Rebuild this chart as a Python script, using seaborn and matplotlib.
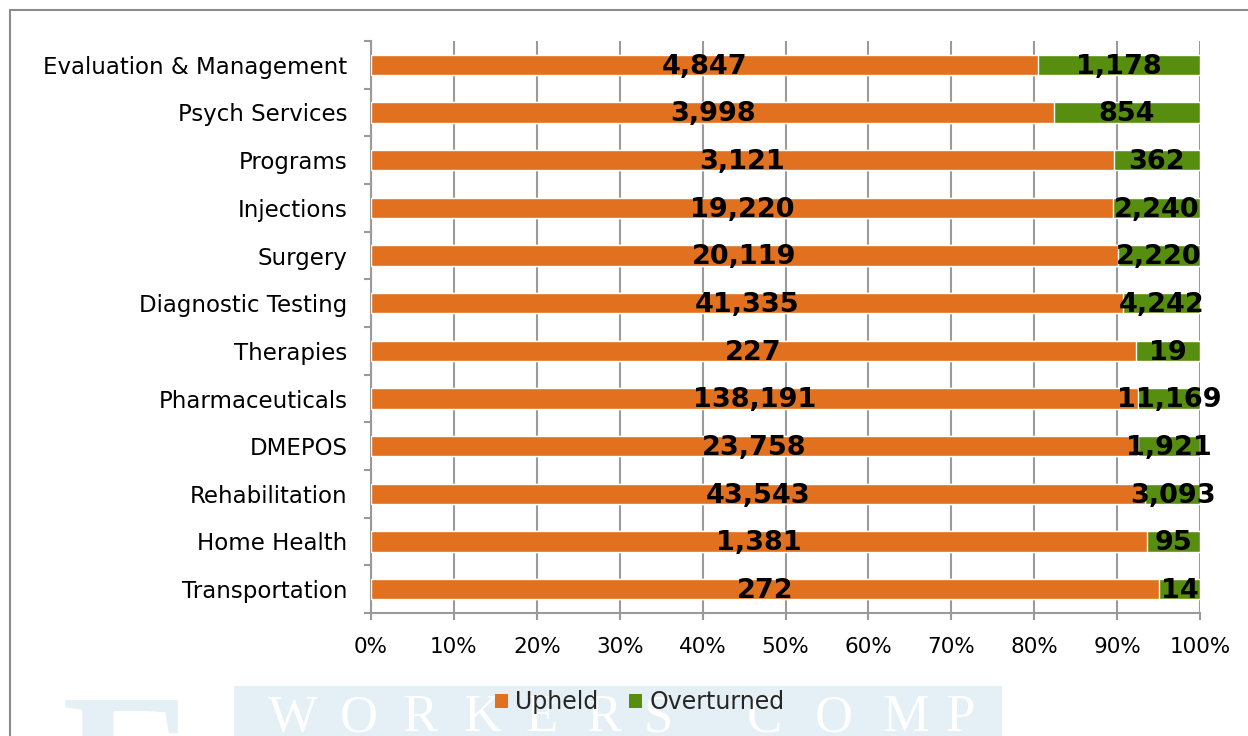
import matplotlib
matplotlib.use("Agg")
import matplotlib.pyplot as plt
import seaborn as sns
import pandas as pd
from matplotlib.patches import Rectangle, Patch
from matplotlib.lines import Line2D
from matplotlib.ticker import FixedLocator, NullFormatter

categories = ["Evaluation & Management", "Psych Services", "Programs", "Injections",
              "Surgery", "Diagnostic Testing", "Therapies", "Pharmaceuticals",
              "DMEPOS", "Rehabilitation", "Home Health", "Transportation"]
upheld = [4847, 3998, 3121, 19220, 20119, 41335, 227, 138191, 23758, 43543, 1381, 272]
overturned = [1178, 854, 362, 2240, 2220, 4242, 19, 11169, 1921, 3093, 95, 14]
series_names = ["Upheld", "Overturned"]
xtick_values = [0, 10, 20, 30, 40, 50, 60, 70, 80, 90, 100]
xtick_labels = [f"{v}%" for v in xtick_values]

# decorative watermark text (background branding)
wm_letters = list("WORKERSCOMP")
wm_centers_px = [293, 359, 420, 483, 542, 604, 658, 764, 834, 906, 960]

ORANGE = "#E1711F"
GREEN = "#588E10"
GRID = "#9A9A9A"
WM = "#E4EFF6"

sns.set_theme(style="white")
plt.rcParams['font.family'] = ['DejaVu Sans']

df = pd.DataFrame({"cat": categories, "up": upheld, "ov": overturned})
df["total"] = df["up"] + df["ov"]
df["up_pct"] = df["up"] / df["total"] * 100
df["full_pct"] = (df["up"] + df["ov"]) / df["total"] * 100

W, H = 1248, 736
fig = plt.figure(figsize=(W / 100, H / 100), dpi=100)

# watermark band and logo fragment
fig.patches.append(Rectangle((234 / W, 0), (1002 - 234) / W, 50 / H,
                             transform=fig.transFigure, facecolor=WM, edgecolor="none", zorder=0))
for ch, cx in zip(wm_letters, wm_centers_px):
    fig.text(cx / W, 5 / H, ch, ha="center", va="baseline",
             family="Liberation Serif", fontsize=38, color="white", zorder=1)
fig.text(62 / W, -96 / H, "E", ha="left", va="baseline", family="Liberation Serif",
         fontweight="bold", fontsize=145, color=WM, zorder=0)

# figure frame (top & left)
fig.lines.append(Line2D([10 / W, 10 / W], [0, 1 - 10 / H], transform=fig.transFigure,
                        color="#8C8C8C", lw=1.5))
fig.lines.append(Line2D([10 / W, 1.0], [1 - 10 / H, 1 - 10 / H], transform=fig.transFigure,
                        color="#8C8C8C", lw=1.5))

ax = fig.add_axes([371 / W, 1 - 613 / H, 829 / W, 572 / H])
ax.set_facecolor("none")
sns.barplot(data=df, y="cat", x="full_pct", color=GREEN, saturation=1, width=0.42,
            orient="h", ax=ax, zorder=2)
sns.barplot(data=df, y="cat", x="up_pct", color=ORANGE, saturation=1, width=0.42,
            orient="h", ax=ax, zorder=3)

for i, row in df.iterrows():
    ax.text(row["up_pct"] / 2, i + 0.04, f"{row['up']:,}", ha="center", va="center",
            fontsize=19.5, fontweight="bold", color="black", zorder=5)
    ax.text((row["up_pct"] + 100) / 2, i + 0.04, f"{row['ov']:,}", ha="center", va="center",
            fontsize=19.5, fontweight="bold", color="black", zorder=5)

ax.set_xlim(0, 100)
ax.set_ylim(len(categories) - 0.5, -0.5)
ax.set_xlabel("")
ax.set_ylabel("")
ax.xaxis.set_major_locator(FixedLocator(xtick_values))
ax.set_xticklabels(xtick_labels)
ax.xaxis.grid(True, color=GRID, lw=1.5)
ax.yaxis.grid(False)
ax.set_axisbelow(True)

for s in ["top", "right"]:
    ax.spines[s].set_visible(False)
for s in ["left", "bottom"]:
    ax.spines[s].set_color(GRID)
    ax.spines[s].set_linewidth(1.5)

ax.yaxis.set_minor_locator(FixedLocator([i - 0.5 for i in range(len(categories) + 1)]))
ax.yaxis.set_minor_formatter(NullFormatter())
ax.tick_params(axis="y", which="major", length=0, pad=17, labelsize=16.5, labelcolor="black")
ax.tick_params(axis="y", which="minor", left=True, length=5, width=1.5, color=GRID)
ax.tick_params(axis="x", which="major", bottom=True, length=5, width=1.5, color=GRID,
               pad=12.5, labelsize=15.5, labelcolor="black")

handles = [Patch(facecolor=ORANGE, edgecolor="none"), Patch(facecolor=GREEN, edgecolor="none")]
fig.legend(handles, series_names, loc="center", bbox_to_anchor=(640 / W, 1 - 702 / H),
           ncol=2, frameon=False, fontsize=17, handlelength=0.55, handleheight=0.55,
           handletextpad=0.3, columnspacing=1.3, borderpad=0, borderaxespad=0)

fig.savefig("out.png", dpi=100)
